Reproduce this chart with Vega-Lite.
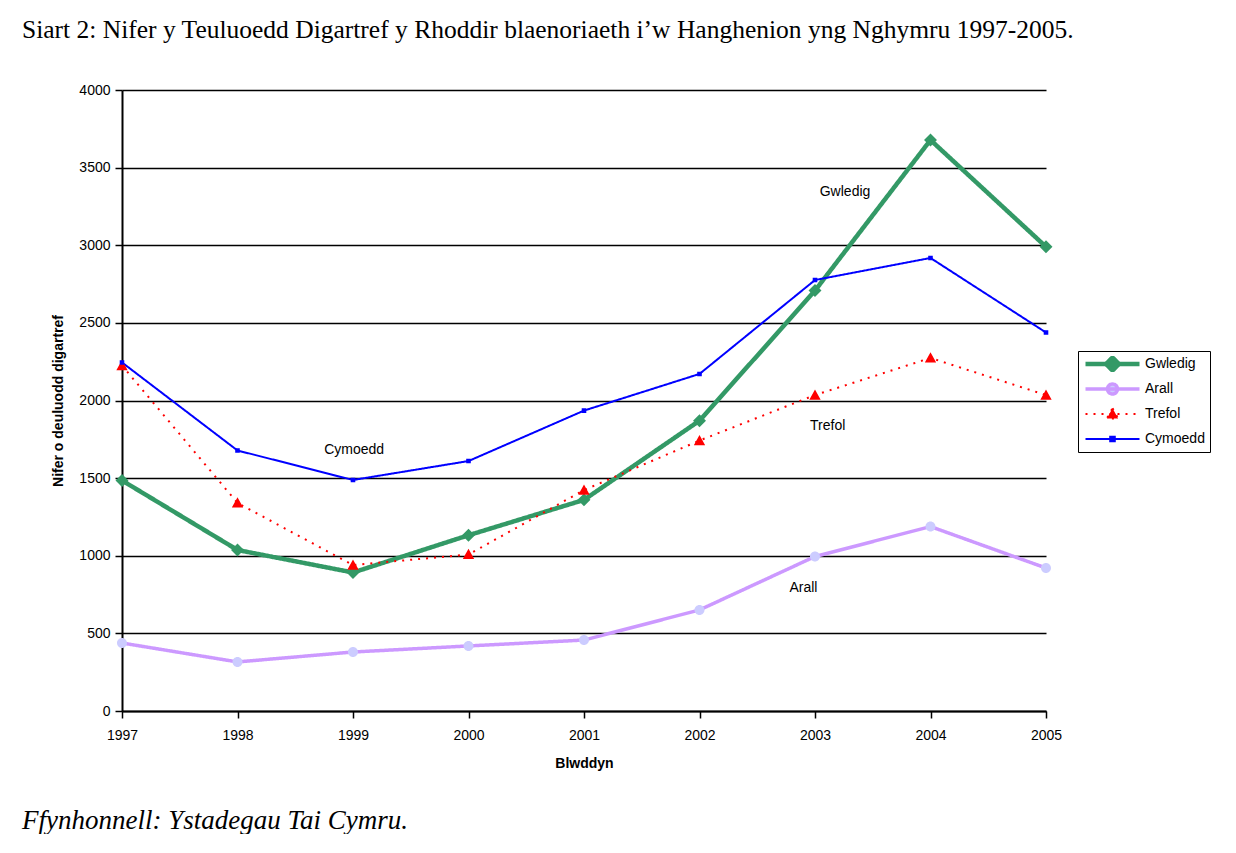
{
  "$schema": "https://vega.github.io/schema/vega-lite/v6.json",
  "background": "white",
  "padding": {"left": 22, "top": 17, "right": 0, "bottom": 0},
  "title": {
    "text": "Siart 2: Nifer y Teuluoedd Digartref y Rhoddir blaenoriaeth i’w Hanghenion yng Nghymru 1997-2005.",
    "anchor": "start",
    "frame": "group",
    "dx": -100,
    "font": "Liberation Serif",
    "fontSize": 25.5,
    "fontWeight": "normal",
    "color": "black",
    "offset": 40
  },
  "config": {
    "view": {"stroke": null},
    "axis": {
      "labelFont": "Liberation Sans",
      "labelFontSize": 14,
      "labelColor": "black",
      "titleFont": "Liberation Sans",
      "titleFontSize": 14,
      "titleFontWeight": "bold",
      "titleColor": "black",
      "domainColor": "black",
      "domainWidth": 2,
      "tickColor": "black",
      "tickWidth": 1.5,
      "tickSize": 7
    }
  },
  "datasets": {
    "series": [
      {"series": "Gwledig", "year": 1997, "value": 1485},
      {"series": "Gwledig", "year": 1998, "value": 1037},
      {"series": "Gwledig", "year": 1999, "value": 892},
      {"series": "Gwledig", "year": 2000, "value": 1132},
      {"series": "Gwledig", "year": 2001, "value": 1360},
      {"series": "Gwledig", "year": 2002, "value": 1870},
      {"series": "Gwledig", "year": 2003, "value": 2708},
      {"series": "Gwledig", "year": 2004, "value": 3678},
      {"series": "Gwledig", "year": 2005, "value": 2990},
      {"series": "Arall", "year": 1997, "value": 438},
      {"series": "Arall", "year": 1998, "value": 316},
      {"series": "Arall", "year": 1999, "value": 380},
      {"series": "Arall", "year": 2000, "value": 419},
      {"series": "Arall", "year": 2001, "value": 457},
      {"series": "Arall", "year": 2002, "value": 651},
      {"series": "Arall", "year": 2003, "value": 995},
      {"series": "Arall", "year": 2004, "value": 1188},
      {"series": "Arall", "year": 2005, "value": 921},
      {"series": "Trefol", "year": 1997, "value": 2225},
      {"series": "Trefol", "year": 1998, "value": 1340},
      {"series": "Trefol", "year": 1999, "value": 940},
      {"series": "Trefol", "year": 2000, "value": 1008},
      {"series": "Trefol", "year": 2001, "value": 1423},
      {"series": "Trefol", "year": 2002, "value": 1742},
      {"series": "Trefol", "year": 2003, "value": 2035},
      {"series": "Trefol", "year": 2004, "value": 2274},
      {"series": "Trefol", "year": 2005, "value": 2035},
      {"series": "Cymoedd", "year": 1997, "value": 2245},
      {"series": "Cymoedd", "year": 1998, "value": 1678},
      {"series": "Cymoedd", "year": 1999, "value": 1488},
      {"series": "Cymoedd", "year": 2000, "value": 1610},
      {"series": "Cymoedd", "year": 2001, "value": 1935},
      {"series": "Cymoedd", "year": 2002, "value": 2171},
      {"series": "Cymoedd", "year": 2003, "value": 2776},
      {"series": "Cymoedd", "year": 2004, "value": 2918},
      {"series": "Cymoedd", "year": 2005, "value": 2438}
    ],
    "labels": [
      {"label": "Gwledig", "year": 2003.26, "value": 3343},
      {"label": "Cymoedd", "year": 1999.01, "value": 1681},
      {"label": "Trefol", "year": 2003.11, "value": 1836},
      {"label": "Arall", "year": 2002.9, "value": 792}
    ]
  },
  "vconcat": [
    {
      "width": 924,
      "height": 621,
      "title": {
        "text": "Ffynhonnell: Ystadegau Tai Cymru.",
        "orient": "bottom",
        "anchor": "start",
        "frame": "group",
        "dx": -100,
        "font": "Liberation Serif",
        "fontStyle": "italic",
        "fontSize": 27,
        "fontWeight": "normal",
        "color": "black",
        "offset": 38
      },
      "layer": [
        {
          "data": {"name": "series"},
          "mark": {"type": "line"},
          "encoding": {
            "x": {
              "field": "year",
              "type": "quantitative",
              "scale": {"domain": [1997, 2005], "nice": false, "zero": false},
              "axis": {
                "values": [1997, 1998, 1999, 2000, 2001, 2002, 2003, 2004, 2005],
                "format": "d",
                "grid": false,
                "labelFlush": false,
                "labelOverlap": false,
                "labelPadding": 10,
                "titlePadding": 14
              },
              "title": "Blwddyn"
            },
            "y": {
              "field": "value",
              "type": "quantitative",
              "scale": {"domain": [0, 4000], "nice": false},
              "axis": {
                "values": [0, 500, 1000, 1500, 2000, 2500, 3000, 3500, 4000],
                "format": "d",
                "grid": true,
                "gridColor": "black",
                "gridWidth": 1.5,
                "gridOpacity": 1,
                "labelPadding": 5,
                "titlePadding": 13
              },
              "title": "Nifer o deuluodd digartref"
            },
            "stroke": {
              "field": "series",
              "type": "nominal",
              "scale": {
                "domain": ["Gwledig", "Arall", "Trefol", "Cymoedd"],
                "range": ["#339966", "#cc99ff", "#ff0000", "#0000ff"]
              },
              "legend": {
                "title": null,
                "orient": "none",
                "legendX": 956,
                "legendY": 261,
                "symbolSize": 2916,
                "symbolStrokeWidth": 3,
                "clipHeight": 16,
                "rowPadding": 9,
                "padding": 5,
                "strokeColor": "black",
                "labelFont": "Liberation Sans",
                "labelFontSize": 14,
                "labelColor": "black",
                "labelOffset": 3
              }
            },
            "strokeWidth": {
              "field": "series",
              "type": "nominal",
              "legend": null,
              "scale": {
                "type": "ordinal",
                "domain": ["Gwledig", "Arall", "Trefol", "Cymoedd"],
                "range": [4.5, 3.5, 2, 2]
              }
            },
            "strokeDash": {
              "field": "series",
              "type": "nominal",
              "scale": {
                "domain": ["Gwledig", "Arall", "Trefol", "Cymoedd"],
                "range": [[1, 0], [1, 0], [2, 6], [1, 0]]
              }
            }
          }
        },
        {
          "data": {"name": "series"},
          "mark": {"type": "point", "filled": true, "size": 2916, "opacity": 1},
          "encoding": {
            "x": {"field": "year", "type": "quantitative"},
            "y": {"field": "value", "type": "quantitative"},
            "fill": {
              "field": "series",
              "type": "nominal",
              "scale": {
                "domain": ["Gwledig", "Arall", "Trefol", "Cymoedd"],
                "range": ["#339966", "#ccccff", "#ff0000", "#0000ff"]
              }
            },
            "shape": {
              "field": "series",
              "type": "nominal",
              "scale": {
                "domain": ["Gwledig", "Arall", "Trefol", "Cymoedd"],
                "range": [
                  "M-1,0H1M0,-0.24L0.24,0L0,0.24L-0.24,0Z",
                  "M-1,0H1M-0.185,0A0.185,0.185,0,1,0,0.185,0A0.185,0.185,0,1,0,-0.185,0Z",
                  "M-1,0H1M0,-0.21L0.21,0.17L-0.21,0.17Z",
                  "M-1,0H1M-0.085,-0.085H0.085V0.085H-0.085Z"
                ]
              }
            }
          }
        },
        {
          "data": {"name": "labels"},
          "mark": {"type": "text", "font": "Liberation Sans", "fontSize": 14, "color": "black", "align": "center", "baseline": "middle"},
          "encoding": {
            "x": {"field": "year", "type": "quantitative"},
            "y": {"field": "value", "type": "quantitative"},
            "text": {"field": "label"}
          }
        }
      ]
    }
  ]
}
